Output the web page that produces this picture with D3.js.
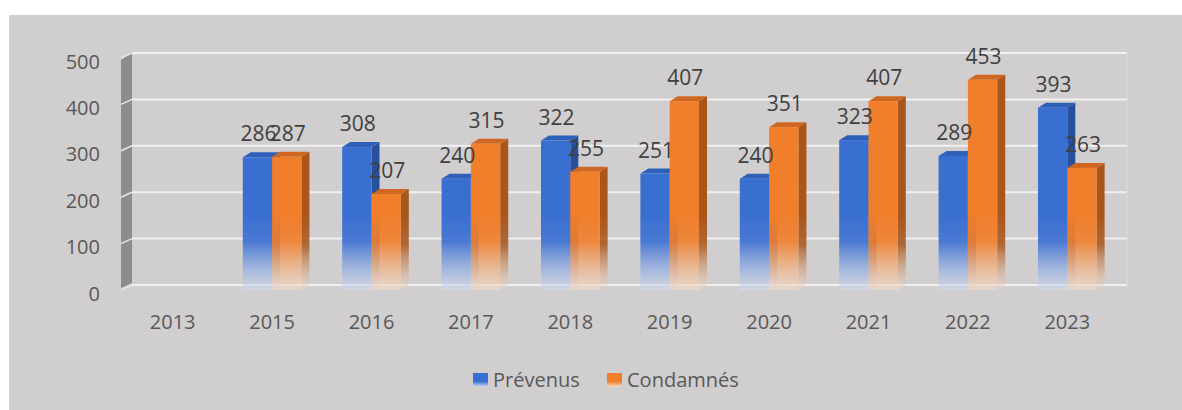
<!DOCTYPE html>
<html>
<head>
<meta charset="utf-8">
<script src="https://cdn.jsdelivr.net/npm/d3@7"></script>
<style>
  body { margin: 0; background: #fff; }
  svg { display: block; font-family: "Open Sans", sans-serif; }
</style>
</head>
<body>
<svg id="chart" width="1182" height="410"></svg>
<script>
const years = ['2013', '2015', '2016', '2017', '2018', '2019', '2020', '2021', '2022', '2023'];
const seriesNames = ['Prévenus', 'Condamnés'];
const prevenus = [null, 286, 308, 240, 322, 251, 240, 323, 289, 393];
const condamnes = [null, 287, 207, 315, 255, 407, 351, 407, 453, 263];
const yTicks = [0, 100, 200, 300, 400, 500];

const seriesValues = [prevenus, condamnes];
const colors = [
  { front: '#3a6fd2', side: '#27509c', top: '#2f60b8', fade: '#d4dcef' },
  { front: '#f07e2b', side: '#a9561b', top: '#cf6721', fade: '#f3dccb' }
];

const svg = d3.select('#chart');

// grey chart area
svg.append('rect')
  .attr('x', 9).attr('y', 15)
  .attr('width', 1173).attr('height', 395)
  .attr('fill', '#d0cece');

const x = d3.scaleBand().domain(years).range([123, 1117])
  .paddingInner(0.41).paddingOuter(0.205);
const xs = d3.scaleBand().domain(seriesNames).range([0, x.bandwidth()]);
const y = d3.scaleLinear().domain([0, 500]).range([290, 58]);

const dx = 10, dy = 5;   // back wall offset
const bd = 8, bdy = 5;   // bar depth

const defs = svg.append('defs');
colors.forEach((c, i) => {
  const g = defs.append('linearGradient')
    .attr('id', 'front' + i)
    .attr('gradientUnits', 'userSpaceOnUse')
    .attr('x1', 0).attr('x2', 0)
    .attr('y1', y(0) - 75).attr('y2', y(0));
  g.append('stop').attr('offset', 0).attr('stop-color', c.front);
  g.append('stop').attr('offset', 0.35).attr('stop-color', c.front).attr('stop-opacity', 0.9);
  g.append('stop').attr('offset', 1).attr('stop-color', c.fade).attr('stop-opacity', 0.6);

  const s = defs.append('linearGradient')
    .attr('id', 'side' + i)
    .attr('gradientUnits', 'userSpaceOnUse')
    .attr('x1', 0).attr('x2', 0)
    .attr('y1', y(0) - 75).attr('y2', y(0));
  s.append('stop').attr('offset', 0).attr('stop-color', c.side);
  s.append('stop').attr('offset', 0.4).attr('stop-color', c.side).attr('stop-opacity', 0.85);
  s.append('stop').attr('offset', 1).attr('stop-color', c.fade).attr('stop-opacity', 0.4);

  const l = defs.append('linearGradient')
    .attr('id', 'leg' + i)
    .attr('x1', 0).attr('x2', 0).attr('y1', 0).attr('y2', 1);
  l.append('stop').attr('offset', 0).attr('stop-color', c.front);
  l.append('stop').attr('offset', 0.6).attr('stop-color', c.front);
  l.append('stop').attr('offset', 1).attr('stop-color', c.fade);
});

// left wall
svg.append('polygon')
  .attr('points', [[121, y(500) + 2], [121 + dx + 1, y(500) - dy - 1], [121 + dx + 1, y(0) - dy - 2], [121, y(0) - 2]].join(' '))
  .attr('fill', '#8c8c8c');

// gridlines
const grid = svg.append('g');
yTicks.forEach(t => {
  grid.append('line')
    .attr('x1', 132).attr('x2', 1127)
    .attr('y1', y(t) - dy).attr('y2', y(t) - dy)
    .attr('stroke', '#f0f0f0').attr('stroke-width', 2);
  grid.append('line')
    .attr('x1', 121).attr('x2', 132)
    .attr('y1', y(t)).attr('y2', y(t) - dy)
    .attr('stroke', '#e6e6e6').attr('stroke-width', 1.5);
});
// right edge of back wall
svg.append('line')
  .attr('x1', 1127).attr('x2', 1127)
  .attr('y1', y(500) - dy).attr('y2', y(0) - dy)
  .attr('stroke', '#dcdcdc').attr('stroke-width', 1);

// y axis labels
svg.append('g').selectAll('text')
  .data(yTicks)
  .join('text')
  .attr('x', 100)
  .attr('y', d => y(d) + 3)
  .attr('text-anchor', 'end')
  .attr('dominant-baseline', 'central')
  .attr('font-size', 20)
  .attr('fill', '#595959')
  .text(d => d);

// x axis labels
svg.append('g').selectAll('text')
  .data(years)
  .join('text')
  .attr('x', d => x(d) + x.bandwidth() / 2)
  .attr('y', 329)
  .attr('text-anchor', 'middle')
  .attr('font-size', 20)
  .attr('fill', '#595959')
  .text(d => d);

// bars
const bars = svg.append('g');
years.forEach((year, i) => {
  seriesNames.forEach((name, s) => {
    const v = seriesValues[s][i];
    if (v == null) return;
    const x0 = x(year) + xs(name);
    const w = xs.bandwidth();
    const top = y(v);
    const bottom = y(0);
    const g = bars.append('g');
    g.append('polygon')
      .attr('points', [[x0 + w, top], [x0 + w + bd, top - bdy], [x0 + w + bd, bottom - bdy], [x0 + w, bottom]].join(' '))
      .attr('fill', `url(#side${s})`);
    g.append('polygon')
      .attr('points', [[x0, top], [x0 + bd, top - bdy], [x0 + w + bd, top - bdy], [x0 + w, top]].join(' '))
      .attr('fill', colors[s].top);
    g.append('rect')
      .attr('x', x0).attr('y', top)
      .attr('width', w).attr('height', bottom - top)
      .attr('fill', `url(#front${s})`);
  });
});

// data labels
const labels = svg.append('g');
years.forEach((year, i) => {
  seriesNames.forEach((name, s) => {
    const v = seriesValues[s][i];
    if (v == null) return;
    labels.append('text')
      .attr('x', x(year) + xs(name) + xs.bandwidth() / 2 + 1)
      .attr('y', y(v) - 16)
      .attr('text-anchor', 'middle')
      .attr('font-size', 21)
      .attr('fill', '#404040')
      .text(v);
  });
});

// legend
const legendX = [473, 607];
const legend = svg.append('g');
seriesNames.forEach((name, s) => {
  legend.append('rect')
    .attr('x', legendX[s]).attr('y', 373)
    .attr('width', 15).attr('height', 14)
    .attr('fill', `url(#leg${s})`);
  legend.append('text')
    .attr('x', legendX[s] + 20)
    .attr('y', 387)
    .attr('font-size', 20)
    .attr('fill', '#595959')
    .text(name);
});
</script>
</body>
</html>
